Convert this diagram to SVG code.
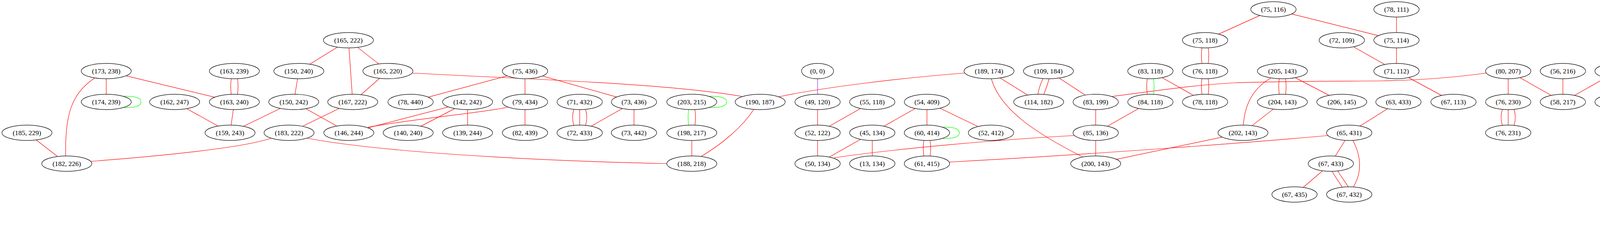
<svg xmlns="http://www.w3.org/2000/svg" width="4649" height="635" viewBox="0 0 4649 635">
<style>
.edges path{fill:none;stroke:#ff0000;stroke-width:1.2}
.edges path.g{stroke:#00ff00}
.edges path.p{stroke:#a020f0}
.node ellipse{fill:#ffffff;stroke:#000000;stroke-width:1.2}
.node text{font-family:"Liberation Serif","Times New Roman",serif;font-size:17.5px;text-anchor:middle;fill:#000000}
</style>
<rect width="4649" height="635" fill="#ffffff"/>
<g id="edges" class="edges">
<path d="M272,202 L272,241"/>
<path d="M322.7,194.2 L549.3,248.8"/>
<path d="M92.9,358.5 L147.1,400.5"/>
<path d="M478.4,278.4 L557.6,322.6"/>
<path d="M597.2,281 L591.8,320"/>
<path d="M761.7,202 L755.3,241"/>
<path d="M717.3,277.8 L623.7,323.2"/>
<path d="M783.2,278.5 L861.8,322.5"/>
<path d="M863.3,120.9 L793.7,164.1"/>
<path d="M893.4,123 L901.6,241"/>
<path d="M915.7,121.6 L969.3,163.4"/>
<path d="M971.5,200.8 L924.5,242.2"/>
<path d="M868.3,277.8 L774.7,323.2"/>
<path d="M1147.8,273.8 L942.8,327.2"/>
<path d="M1164,278.1 L1078,322.9"/>
<path d="M1197,281 L1197,320"/>
<path d="M1298.3,194.3 L1096.7,248.7"/>
<path d="M1344,202 L1344,241"/>
<path d="M1388.8,194.7 L1578.2,248.3"/>
<path d="M1344,281 L1344,320"/>
<path d="M1592.9,278.1 L1513.9,322.9"/>
<path d="M1623,281 L1623,320"/>
<path d="M1771,360 L1771,399"/>
<path class="p" d="M2093,202 L2093,241"/>
<path d="M2093,281 L2093,320"/>
<path d="M2202.7,278.1 L2123.3,322.9"/>
<path d="M2093,360 L2093,399"/>
<path d="M2202.7,357.1 L2123.3,401.9"/>
<path d="M2233,360 L2233,399"/>
<path d="M2342.7,278.1 L2263.3,322.9"/>
<path d="M2373,281 L2373,320"/>
<path d="M2406.8,277.3 L2503.2,323.7"/>
<path d="M2560.7,199.9 L2630.3,243.1"/>
<path d="M2711.6,200 L2777.9,243.3"/>
<path d="M2805,281 L2805,320"/>
<path d="M2975.3,199.1 L3054.7,243.9"/>
<path d="M2914.7,278.1 L2835.3,322.9"/>
<path d="M2805,360 L2805,399"/>
<path d="M3128.8,351.1 L2858.2,407.9"/>
<path d="M3224.8,39.9 L3120.2,87.1"/>
<path d="M3306.9,35.8 L3528.1,91.2"/>
<path d="M3465.3,120.1 L3544.7,164.9"/>
<path d="M3575,44 L3575,83"/>
<path d="M3575,123 L3575,162"/>
<path d="M3606.2,198.9 L3689.8,244.1"/>
<path d="M3316,199.1 L3402,243.9"/>
<path d="M3259.3,279.6 L3205.7,321.4"/>
<path d="M3552,278.5 L3482,322.5"/>
<path d="M3443,360 L3418,400"/>
<path d="M3385,438 L3336,480"/>
<path d="M3861,202 L3861,241"/>
<path d="M3891.3,199.1 L3970.7,243.9"/>
<path d="M4001,202 L4001,241"/>
<path d="M4110.7,199.1 L4031.3,243.9"/>
<path d="M4141,202 L4141,241"/>
<path d="M4171.3,199.1 L4250.7,243.9"/>
<path d="M4281,202 L4281,241"/>
<path d="M4281,281 L4281,320"/>
<path d="M4281,360 L4281,399"/>
<path d="M4390.7,278.1 L4311.3,322.9"/>
<path d="M4421,281 L4421,320"/>
<path d="M4451.3,278.1 L4530.7,322.9"/>
<path d="M4530.7,278.1 L4451.3,322.9"/>
<path d="M4561,281 L4561,320"/>
<path d="M4421,360 L4421,399"/>
<path d="M242,200 C185,238 166,290 168,399"/>
<path d="M233,413 C380,402 620,380 693,354"/>
<path d="M1055,187 C1300,201 1700,212 1900,247"/>
<path d="M787,354 C950,385 1300,410 1707,419"/>
<path d="M1302,274 C1250,287 1050,305 942,326"/>
<path d="M1930,280 C1900,325 1850,368 1794,401"/>
<path d="M2470,187 C2300,200 2100,225 1993,248"/>
<path d="M2538,202 C2560,280 2650,340 2770,401"/>
<path d="M2135,404 C2300,380 2550,358 2750,347"/>
<path d="M2430,415 C2800,395 3200,365 3400,347"/>
<path d="M2847,247 C2950,234 3050,218 3160,212 C3300,207 3450,208 3540,207 C3650,205 3740,196 3805,187"/>
<path d="M3253,200 C3215,222 3187,260 3183,320"/>
<path d="M3463,359 C3485,400 3487,440 3465,478"/>
<path d="M592,202 C590,215 590,228 592,241"/>
<path d="M608,202 C610,215 610,228 608,241"/>
<path class="g" d="M1763,281 C1761,294 1761,307 1763,320"/>
<path d="M1779,281 C1781,294 1781,307 1779,320"/>
<path d="M2365,360 C2363,373 2363,386 2365,399"/>
<path d="M2381,360 C2383,373 2383,386 2381,399"/>
<path d="M2937,202 C2935,215 2935,228 2937,241"/>
<path class="g" d="M2953,202 C2955,215 2955,228 2953,241"/>
<path d="M3077,123 C3075,136 3075,149 3077,162"/>
<path d="M3093,123 C3095,136 3095,149 3093,162"/>
<path d="M3077,202 C3075,215 3075,228 3077,241"/>
<path d="M3093,202 C3095,215 3095,228 3093,241"/>
<path d="M3275,202 C3273,215 3273,228 3275,241"/>
<path d="M3291,202 C3293,215 3293,228 3291,241"/>
<path d="M4553,360 C4551,373 4551,386 4553,399"/>
<path d="M4569,360 C4571,373 4571,386 4569,399"/>
<path d="M2670,201 C2664,214 2659,228 2657,242"/>
<path d="M2686,201 C2682,216 2677,230 2672,242"/>
<path d="M3410,438 C3418,453 3428,466 3436,479"/>
<path d="M3425,438 C3433,452 3444,466 3452,479"/>
<path d="M1469,280 C1465,293 1465,308 1469,321"/>
<path d="M1484,281 L1484,320"/>
<path d="M1499,280 C1503,293 1503,308 1499,321"/>
<path d="M3846,280 C3842,293 3842,308 3846,321"/>
<path d="M3861,281 L3861,320"/>
<path d="M3876,280 C3880,293 3880,308 3876,321"/>
<path class="g" d="M316,246.5 C342,246 361,249 361,261 C361,273 342,276 316,275.5"/>
<path class="g" d="M1815,246.5 C1841,246 1860,249 1860,261 C1860,273 1841,276 1815,275.5"/>
<path class="g" d="M2413,325.5 C2437,325 2456,328 2456,340 C2456,352 2437,355 2413,354.5"/>
<path class="g" d="M4321,167.5 C4345,167 4364,170 4364,182 C4364,194 4345,197 4321,196.5"/>
<path class="g" d="M4601,246.5 C4625,246 4644,249 4644,261 C4644,273 4625,276 4601,275.5"/>
</g>
<g id="n173_238" class="node"><ellipse cx="272" cy="182" rx="64" ry="19.7"/><text x="272" y="187.5">(173, 238)</text></g>
<g id="n174_239" class="node"><ellipse cx="272" cy="261" rx="64" ry="19.7"/><text x="272" y="266.5">(174, 239)</text></g>
<g id="n185_229" class="node"><ellipse cx="69" cy="340" rx="64" ry="19.7"/><text x="69" y="345.5">(185, 229)</text></g>
<g id="n182_226" class="node"><ellipse cx="171" cy="419" rx="64" ry="19.7"/><text x="171" y="424.5">(182, 226)</text></g>
<g id="n163_239" class="node"><ellipse cx="600" cy="182" rx="64" ry="19.7"/><text x="600" y="187.5">(163, 239)</text></g>
<g id="n150_240" class="node"><ellipse cx="765" cy="182" rx="64" ry="19.7"/><text x="765" y="187.5">(150, 240)</text></g>
<g id="n162_247" class="node"><ellipse cx="447" cy="261" rx="64" ry="19.7"/><text x="447" y="266.5">(162, 247)</text></g>
<g id="n163_240" class="node"><ellipse cx="600" cy="261" rx="64" ry="19.7"/><text x="600" y="266.5">(163, 240)</text></g>
<g id="n150_242" class="node"><ellipse cx="752" cy="261" rx="64" ry="19.7"/><text x="752" y="266.5">(150, 242)</text></g>
<g id="n159_243" class="node"><ellipse cx="589" cy="340" rx="64" ry="19.7"/><text x="589" y="345.5">(159, 243)</text></g>
<g id="n183_222" class="node"><ellipse cx="740" cy="340" rx="64" ry="19.7"/><text x="740" y="345.5">(183, 222)</text></g>
<g id="n165_222" class="node"><ellipse cx="892" cy="103" rx="64" ry="19.7"/><text x="892" y="108.5">(165, 222)</text></g>
<g id="n165_220" class="node"><ellipse cx="993" cy="182" rx="64" ry="19.7"/><text x="993" y="187.5">(165, 220)</text></g>
<g id="n167_222" class="node"><ellipse cx="903" cy="261" rx="64" ry="19.7"/><text x="903" y="266.5">(167, 222)</text></g>
<g id="n78_440" class="node"><ellipse cx="1051" cy="261" rx="58" ry="19.7"/><text x="1051" y="266.5">(78, 440)</text></g>
<g id="n142_242" class="node"><ellipse cx="1197" cy="261" rx="64" ry="19.7"/><text x="1197" y="266.5">(142, 242)</text></g>
<g id="n146_244" class="node"><ellipse cx="893" cy="340" rx="64" ry="19.7"/><text x="893" y="345.5">(146, 244)</text></g>
<g id="n140_240" class="node"><ellipse cx="1045" cy="340" rx="64" ry="19.7"/><text x="1045" y="345.5">(140, 240)</text></g>
<g id="n139_244" class="node"><ellipse cx="1197" cy="340" rx="64" ry="19.7"/><text x="1197" y="345.5">(139, 244)</text></g>
<g id="n75_436" class="node"><ellipse cx="1344" cy="182" rx="58" ry="19.7"/><text x="1344" y="187.5">(75, 436)</text></g>
<g id="n79_434" class="node"><ellipse cx="1344" cy="261" rx="58" ry="19.7"/><text x="1344" y="266.5">(79, 434)</text></g>
<g id="n82_439" class="node"><ellipse cx="1344" cy="340" rx="58" ry="19.7"/><text x="1344" y="345.5">(82, 439)</text></g>
<g id="n71_432" class="node"><ellipse cx="1484" cy="261" rx="58" ry="19.7"/><text x="1484" y="266.5">(71, 432)</text></g>
<g id="n72_433" class="node"><ellipse cx="1484" cy="340" rx="58" ry="19.7"/><text x="1484" y="345.5">(72, 433)</text></g>
<g id="n73_436" class="node"><ellipse cx="1623" cy="261" rx="58" ry="19.7"/><text x="1623" y="266.5">(73, 436)</text></g>
<g id="n73_442" class="node"><ellipse cx="1623" cy="340" rx="58" ry="19.7"/><text x="1623" y="345.5">(73, 442)</text></g>
<g id="n203_215" class="node"><ellipse cx="1771" cy="261" rx="64" ry="19.7"/><text x="1771" y="266.5">(203, 215)</text></g>
<g id="n190_187" class="node"><ellipse cx="1946" cy="261" rx="64" ry="19.7"/><text x="1946" y="266.5">(190, 187)</text></g>
<g id="n198_217" class="node"><ellipse cx="1771" cy="340" rx="64" ry="19.7"/><text x="1771" y="345.5">(198, 217)</text></g>
<g id="n188_218" class="node"><ellipse cx="1771" cy="419" rx="64" ry="19.7"/><text x="1771" y="424.5">(188, 218)</text></g>
<g id="n0_0" class="node"><ellipse cx="2093" cy="182" rx="41" ry="19.7"/><text x="2093" y="187.5">(0, 0)</text></g>
<g id="n49_120" class="node"><ellipse cx="2093" cy="261" rx="58" ry="19.7"/><text x="2093" y="266.5">(49, 120)</text></g>
<g id="n55_118" class="node"><ellipse cx="2233" cy="261" rx="58" ry="19.7"/><text x="2233" y="266.5">(55, 118)</text></g>
<g id="n54_409" class="node"><ellipse cx="2373" cy="261" rx="58" ry="19.7"/><text x="2373" y="266.5">(54, 409)</text></g>
<g id="n52_122" class="node"><ellipse cx="2093" cy="340" rx="58" ry="19.7"/><text x="2093" y="345.5">(52, 122)</text></g>
<g id="n45_134" class="node"><ellipse cx="2233" cy="340" rx="58" ry="19.7"/><text x="2233" y="345.5">(45, 134)</text></g>
<g id="n60_414" class="node"><ellipse cx="2373" cy="340" rx="58" ry="19.7"/><text x="2373" y="345.5">(60, 414)</text></g>
<g id="n50_134" class="node"><ellipse cx="2093" cy="419" rx="58" ry="19.7"/><text x="2093" y="424.5">(50, 134)</text></g>
<g id="n13_134" class="node"><ellipse cx="2233" cy="419" rx="58" ry="19.7"/><text x="2233" y="424.5">(13, 134)</text></g>
<g id="n61_415" class="node"><ellipse cx="2373" cy="419" rx="58" ry="19.7"/><text x="2373" y="424.5">(61, 415)</text></g>
<g id="n189_174" class="node"><ellipse cx="2532" cy="182" rx="64" ry="19.7"/><text x="2532" y="187.5">(189, 174)</text></g>
<g id="n109_184" class="node"><ellipse cx="2684" cy="182" rx="64" ry="19.7"/><text x="2684" y="187.5">(109, 184)</text></g>
<g id="n114_182" class="node"><ellipse cx="2659" cy="261" rx="64" ry="19.7"/><text x="2659" y="266.5">(114, 182)</text></g>
<g id="n52_412" class="node"><ellipse cx="2537" cy="340" rx="58" ry="19.7"/><text x="2537" y="345.5">(52, 412)</text></g>
<g id="n83_199" class="node"><ellipse cx="2805" cy="261" rx="58" ry="19.7"/><text x="2805" y="266.5">(83, 199)</text></g>
<g id="n83_118" class="node"><ellipse cx="2945" cy="182" rx="58" ry="19.7"/><text x="2945" y="187.5">(83, 118)</text></g>
<g id="n84_118" class="node"><ellipse cx="2945" cy="261" rx="58" ry="19.7"/><text x="2945" y="266.5">(84, 118)</text></g>
<g id="n75_118" class="node"><ellipse cx="3085" cy="103" rx="58" ry="19.7"/><text x="3085" y="108.5">(75, 118)</text></g>
<g id="n76_118" class="node"><ellipse cx="3085" cy="182" rx="58" ry="19.7"/><text x="3085" y="187.5">(76, 118)</text></g>
<g id="n78_118" class="node"><ellipse cx="3085" cy="261" rx="58" ry="19.7"/><text x="3085" y="266.5">(78, 118)</text></g>
<g id="n85_136" class="node"><ellipse cx="2805" cy="340" rx="58" ry="19.7"/><text x="2805" y="345.5">(85, 136)</text></g>
<g id="n200_143" class="node"><ellipse cx="2805" cy="419" rx="64" ry="19.7"/><text x="2805" y="424.5">(200, 143)</text></g>
<g id="n75_116" class="node"><ellipse cx="3260" cy="24" rx="58" ry="19.7"/><text x="3260" y="29.5">(75, 116)</text></g>
<g id="n72_109" class="node"><ellipse cx="3435" cy="103" rx="58" ry="19.7"/><text x="3435" y="108.5">(72, 109)</text></g>
<g id="n205_143" class="node"><ellipse cx="3283" cy="182" rx="64" ry="19.7"/><text x="3283" y="187.5">(205, 143)</text></g>
<g id="n204_143" class="node"><ellipse cx="3283" cy="261" rx="64" ry="19.7"/><text x="3283" y="266.5">(204, 143)</text></g>
<g id="n206_145" class="node"><ellipse cx="3435" cy="261" rx="64" ry="19.7"/><text x="3435" y="266.5">(206, 145)</text></g>
<g id="n202_143" class="node"><ellipse cx="3182" cy="340" rx="64" ry="19.7"/><text x="3182" y="345.5">(202, 143)</text></g>
<g id="n65_431" class="node"><ellipse cx="3454" cy="340" rx="58" ry="19.7"/><text x="3454" y="345.5">(65, 431)</text></g>
<g id="n67_433" class="node"><ellipse cx="3407" cy="419" rx="58" ry="19.7"/><text x="3407" y="424.5">(67, 433)</text></g>
<g id="n67_435" class="node"><ellipse cx="3314" cy="498" rx="58" ry="19.7"/><text x="3314" y="503.5">(67, 435)</text></g>
<g id="n67_432" class="node"><ellipse cx="3454" cy="498" rx="58" ry="19.7"/><text x="3454" y="503.5">(67, 432)</text></g>
<g id="n78_111" class="node"><ellipse cx="3575" cy="24" rx="58" ry="19.7"/><text x="3575" y="29.5">(78, 111)</text></g>
<g id="n75_114" class="node"><ellipse cx="3575" cy="103" rx="58" ry="19.7"/><text x="3575" y="108.5">(75, 114)</text></g>
<g id="n71_112" class="node"><ellipse cx="3575" cy="182" rx="58" ry="19.7"/><text x="3575" y="187.5">(71, 112)</text></g>
<g id="n63_433" class="node"><ellipse cx="3580" cy="261" rx="58" ry="19.7"/><text x="3580" y="266.5">(63, 433)</text></g>
<g id="n67_113" class="node"><ellipse cx="3721" cy="261" rx="58" ry="19.7"/><text x="3721" y="266.5">(67, 113)</text></g>
<g id="n80_207" class="node"><ellipse cx="3861" cy="182" rx="58" ry="19.7"/><text x="3861" y="187.5">(80, 207)</text></g>
<g id="n76_230" class="node"><ellipse cx="3861" cy="261" rx="58" ry="19.7"/><text x="3861" y="266.5">(76, 230)</text></g>
<g id="n76_231" class="node"><ellipse cx="3861" cy="340" rx="58" ry="19.7"/><text x="3861" y="345.5">(76, 231)</text></g>
<g id="n56_216" class="node"><ellipse cx="4001" cy="182" rx="58" ry="19.7"/><text x="4001" y="187.5">(56, 216)</text></g>
<g id="n58_217" class="node"><ellipse cx="4001" cy="261" rx="58" ry="19.7"/><text x="4001" y="266.5">(58, 217)</text></g>
<g id="n55_222" class="node"><ellipse cx="4141" cy="182" rx="58" ry="19.7"/><text x="4141" y="187.5">(55, 222)</text></g>
<g id="n52_219" class="node"><ellipse cx="4141" cy="261" rx="58" ry="19.7"/><text x="4141" y="266.5">(52, 219)</text></g>
<g id="n49_230" class="node"><ellipse cx="4281" cy="182" rx="58" ry="19.7"/><text x="4281" y="187.5">(49, 230)</text></g>
<g id="n51_230" class="node"><ellipse cx="4281" cy="261" rx="58" ry="19.7"/><text x="4281" y="266.5">(51, 230)</text></g>
<g id="n51_232" class="node"><ellipse cx="4281" cy="340" rx="58" ry="19.7"/><text x="4281" y="345.5">(51, 232)</text></g>
<g id="n46_235" class="node"><ellipse cx="4281" cy="419" rx="58" ry="19.7"/><text x="4281" y="424.5">(46, 235)</text></g>
<g id="n63_238" class="node"><ellipse cx="4421" cy="261" rx="58" ry="19.7"/><text x="4421" y="266.5">(63, 238)</text></g>
<g id="n69_236" class="node"><ellipse cx="4561" cy="261" rx="58" ry="19.7"/><text x="4561" y="266.5">(69, 236)</text></g>
<g id="n64_240" class="node"><ellipse cx="4421" cy="340" rx="58" ry="19.7"/><text x="4421" y="345.5">(64, 240)</text></g>
<g id="n64_236" class="node"><ellipse cx="4561" cy="340" rx="58" ry="19.7"/><text x="4561" y="345.5">(64, 236)</text></g>
<g id="n64_243" class="node"><ellipse cx="4421" cy="419" rx="58" ry="19.7"/><text x="4421" y="424.5">(64, 243)</text></g>
<g id="n63_236" class="node"><ellipse cx="4561" cy="419" rx="58" ry="19.7"/><text x="4561" y="424.5">(63, 236)</text></g>
</svg>
